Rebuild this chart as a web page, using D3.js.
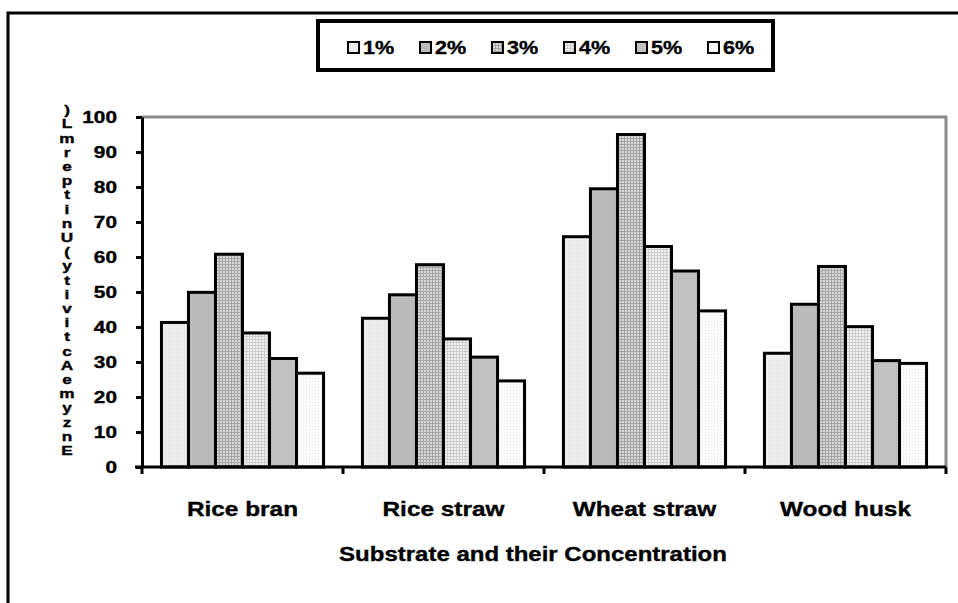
<!DOCTYPE html>
<html>
<head>
<meta charset="utf-8">
<script src="https://cdn.jsdelivr.net/npm/d3@7/dist/d3.min.js"></script>
<style>
  html, body { margin: 0; padding: 0; background: #fff; }
  svg { display: block; font-family: Arial, "Liberation Sans", sans-serif; font-weight: bold; }
  svg text { stroke: #000; stroke-width: 0.35px; fill: #000; }
</style>
</head>
<body>
<svg id="chart" width="958" height="603"></svg>
<script>
// ---- data ----
const categories = ["Rice bran", "Rice straw", "Wheat straw", "Wood husk"];
const seriesNames = ["1%", "2%", "3%", "4%", "5%", "6%"];
const riceBran   = [41.3, 49.9, 60.8, 38.3, 31.0, 26.8];
const riceStraw  = [42.5, 49.2, 57.8, 36.6, 31.4, 24.6];
const wheatStraw = [65.8, 79.5, 95.0, 63.0, 56.0, 44.6];
const woodHusk   = [32.5, 46.5, 57.3, 40.1, 30.4, 29.6];
const yTicks = [0, 10, 20, 30, 40, 50, 60, 70, 80, 90, 100];
const yTitle = "Enzyme Activity (Unit per mL)";
const xTitle = "Substrate and their Concentration";
const values = [riceBran, riceStraw, wheatStraw, woodHusk];

// ---- layout ----
const plot = { left: 142, right: 946, top: 117, bottom: 467 };
const svg = d3.select("#chart");

// patterns
const defs = svg.append("defs");
function solidPat(id, bg, dot, size) {
  const p = defs.append("pattern").attr("id", id).attr("patternUnits", "userSpaceOnUse")
    .attr("width", size).attr("height", size);
  p.append("rect").attr("width", size).attr("height", size).attr("fill", bg);
  if (dot) p.append("rect").attr("width", 1).attr("height", 1).attr("fill", dot);
}
function gridPat(id, bg, line, size) {
  const p = defs.append("pattern").attr("id", id).attr("patternUnits", "userSpaceOnUse")
    .attr("width", size).attr("height", size);
  p.append("rect").attr("width", size).attr("height", size).attr("fill", bg);
  p.append("rect").attr("width", size).attr("height", 1).attr("fill", line);
  p.append("rect").attr("width", 1).attr("height", size).attr("fill", line);
}
solidPat("p0", "#efefef", "#e2e2e2", 2);
solidPat("p1", "#bdbdbd", "#b2b2b2", 2);
gridPat("p2", "#d8d8d8", "#a6a6a6", 3);
gridPat("p3", "#f0f0f0", "#cdcdcd", 3);
solidPat("p4", "#c3c3c3", "#b8b8b8", 2);
solidPat("p5", "#fcfcfc", "#e6e6e6", 3);
const fills = seriesNames.map((s, i) => `url(#p${i})`);

// outer frame
svg.append("rect").attr("x", 8).attr("y", 13).attr("width", 1000).attr("height", 1000)
  .attr("fill", "none").attr("stroke", "#000").attr("stroke-width", 3);

// scales
const x = d3.scaleBand().domain(categories).range([plot.left, plot.right]).padding(0);
const xs = d3.scaleBand().domain(seriesNames).range([0, x.bandwidth()]).paddingInner(0).paddingOuter(0.72);
const y = d3.scaleLinear().domain([0, 100]).range([plot.bottom, plot.top]);

// gray frame (top & right)
svg.append("path")
  .attr("d", `M${plot.left},${y(100)}H${plot.right}V${y(0)}`)
  .attr("fill", "none").attr("stroke", "#8a8a8a").attr("stroke-width", 3);

// bars
const g = svg.append("g");
categories.forEach((c, ci) => {
  g.append("g").selectAll("rect").data(values[ci]).join("rect")
    .attr("x", (d, i) => x(c) + xs(seriesNames[i]))
    .attr("y", d => y(d))
    .attr("width", xs.bandwidth())
    .attr("height", d => y(0) - y(d))
    .attr("fill", (d, i) => fills[i])
    .attr("stroke", "#000").attr("stroke-width", 3);
});

// y axis
const yAxis = svg.append("g").attr("transform", `translate(${plot.left},0)`)
  .call(d3.axisLeft(y).tickValues(yTicks).tickSize(6).tickSizeOuter(0));
yAxis.select(".domain").attr("stroke", "#000").attr("stroke-width", 3);
yAxis.selectAll(".tick line").attr("stroke", "#000").attr("stroke-width", 3);
const sxT = 1.3;
yAxis.selectAll(".tick text")
  .attr("x", -25 / sxT).attr("dy", "0.36em")
  .attr("transform", `scale(${sxT},1)`)
  .attr("font-size", 16).attr("font-weight", "bold").attr("font-family", "Arial, 'Liberation Sans', sans-serif");

// x axis
svg.append("line").attr("x1", plot.left - 7).attr("x2", plot.right)
  .attr("y1", y(0)).attr("y2", y(0)).attr("stroke", "#000").attr("stroke-width", 3);
const bounds = categories.map(c => x(c)).concat([x(categories[categories.length - 1]) + x.bandwidth()]);
svg.append("g").selectAll("line").data(bounds).join("line")
  .attr("x1", d => d).attr("x2", d => d)
  .attr("y1", y(0)).attr("y2", y(0) + 7)
  .attr("stroke", "#000").attr("stroke-width", 3);

// category labels
const sxC = 1.22;
svg.append("g").selectAll("text").data(categories).join("text")
  .attr("transform", d => `translate(${x(d) + x.bandwidth() / 2},516) scale(${sxC},1)`)
  .attr("text-anchor", "middle").attr("font-size", 20).text(d => d);

// x title
svg.append("text")
  .attr("transform", `translate(533,561) scale(1.2,1)`)
  .attr("text-anchor", "middle").attr("font-size", 20).text(xTitle);

// y title: upright letters stacked, reading bottom to top
const letters = yTitle.replace(/\s/g, "").split("");
const yStep = 14.2;
svg.append("g").selectAll("text").data(letters).join("text")
  .attr("transform", (d, i) => `translate(67,${455 - i * yStep}) scale(1.4,1)`)
  .attr("text-anchor", "middle").attr("font-size", 12.3).text(d => d);

// legend
svg.append("rect").attr("x", 318).attr("y", 21).attr("width", 455).attr("height", 49)
  .attr("fill", "#fff").attr("stroke", "#000").attr("stroke-width", 4);
const lg = svg.append("g").selectAll("g").data(seriesNames).join("g")
  .attr("transform", (d, i) => `translate(${348 + i * 72},42)`);
lg.append("rect").attr("width", 11).attr("height", 11)
  .attr("fill", (d, i) => fills[i]).attr("stroke", "#000").attr("stroke-width", 2);
lg.append("text").attr("transform", `translate(15,12) scale(1.2,1)`)
  .attr("font-size", 18).text(d => d);
</script>
</body>
</html>
